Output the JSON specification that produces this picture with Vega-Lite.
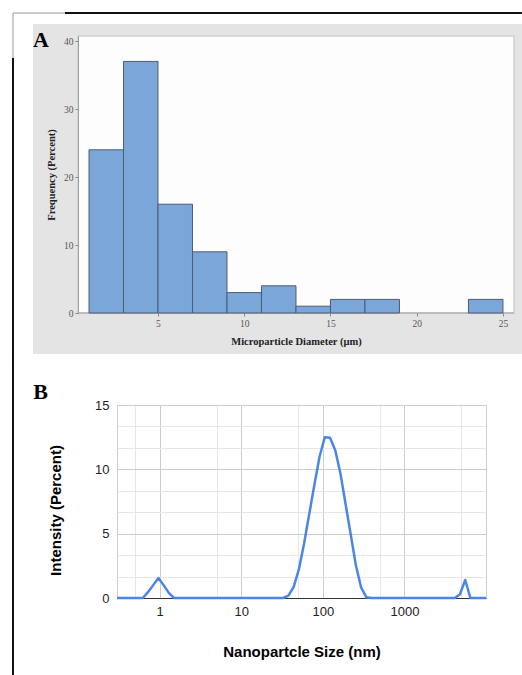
{
  "$schema": "https://vega.github.io/schema/vega-lite/v6.json",
  "background": "white",
  "padding": {"left": 11, "top": 12, "right": 0, "bottom": 0},
  "autosize": {"type": "pad"},
  "columns": 1,
  "align": "none",
  "bounds": "full",
  "spacing": -4,
  "config": {"view": {"stroke": null}},
  "concat": [
    {
      "width": 397,
      "height": 277,
      "layer": [
        {
          "data": {"values": [{}]},
          "mark": {"type": "rect", "fill": "#e5e4e5"},
          "encoding": {
            "x": {"datum": -2.247, "type": "quantitative", "scale": {"domain": [2.623, 25.64], "nice": false, "zero": false}},
            "x2": {"datum": 26.1},
            "y": {"datum": 42.5, "type": "quantitative", "scale": {"domain": [0, 40.74], "nice": false, "zero": false}},
            "y2": {"datum": -6.03}
          }
        },
        {
          "data": {"values": [{}]},
          "mark": {"type": "rect", "fill": "#fdfdfd", "stroke": "#cfcfcf", "strokeWidth": 1.5},
          "encoding": {
            "x": {"datum": 0.362, "type": "quantitative"},
            "x2": {"datum": 25.64},
            "y": {"datum": 40.74, "type": "quantitative"},
            "y2": {"datum": 0}
          }
        },
        {
          "data": {"values": [{}]},
          "mark": {"type": "rule", "color": "#a0a0a0", "strokeWidth": 1},
          "encoding": {"x": {"datum": 0.362, "type": "quantitative"}, "x2": {"datum": 25.64}, "y": {"datum": 0, "type": "quantitative"}}
        },
        {
          "data": {"values": [
            {"lo": 1, "hi": 3, "pct": 24},
            {"lo": 3, "hi": 5, "pct": 37},
            {"lo": 5, "hi": 7, "pct": 16},
            {"lo": 7, "hi": 9, "pct": 9},
            {"lo": 9, "hi": 11, "pct": 3},
            {"lo": 11, "hi": 13, "pct": 4},
            {"lo": 13, "hi": 15, "pct": 1},
            {"lo": 15, "hi": 17, "pct": 2},
            {"lo": 17, "hi": 19, "pct": 2},
            {"lo": 23, "hi": 25, "pct": 2}
          ]},
          "mark": {"type": "rect", "fill": "#7ba6da", "stroke": "#4d5d73", "strokeWidth": 1},
          "encoding": {
            "x": {"field": "lo", "type": "quantitative",
              "axis": {"title": "Microparticle Diameter (µm)", "values": [5, 10, 15, 20, 25], "grid": false,
                "domain": false, "tickColor": "#888", "tickSize": 3, "labelFont": "Liberation Serif",
                "labelFontSize": 9.5, "labelColor": "#555", "labelPadding": 2, "labelFlush": false,
                "titleFont": "Liberation Serif", "titleFontSize": 10.5, "titleFontWeight": "bold", "titleColor": "#222",
                "titlePadding": 9, "titleX": 179, "zindex": 1}},
            "x2": {"field": "hi"},
            "y": {"field": "pct", "type": "quantitative",
              "axis": {"title": "Frequency (Percent)", "values": [0, 10, 20, 30, 40], "grid": false, "offset": 39,
                "domainColor": "#a0a0a0", "tickColor": "#888", "tickSize": 3, "labelFont": "Liberation Serif",
                "labelFontSize": 9.5, "labelColor": "#555", "labelPadding": 2, "labelFlush": false,
                "titleFont": "Liberation Serif", "titleFontSize": 10.5, "titleFontWeight": "bold", "titleColor": "#222",
                "titlePadding": 7, "zindex": 1}},
            "y2": {"datum": 0}
          }
        },
        {
          "data": {"values": [{}]},
          "mark": {"type": "rule", "color": "#999999", "strokeWidth": 1},
          "encoding": {"x": {"datum": -3.406, "type": "quantitative"}, "x2": {"datum": -0.392}, "y": {"datum": 44.12, "type": "quantitative"}}
        },
        {
          "data": {"values": [{}]},
          "mark": {"type": "rule", "color": "#999999", "strokeWidth": 1},
          "encoding": {"x": {"datum": -3.406, "type": "quantitative"}, "y": {"datum": 44.12, "type": "quantitative"}, "y2": {"datum": 37.35}}
        },
        {
          "data": {"values": [{}]},
          "mark": {"type": "rule", "color": "#111111", "strokeWidth": 2},
          "encoding": {"x": {"datum": -0.392, "type": "quantitative"}, "x2": {"datum": 26.1}, "y": {"datum": 44.12, "type": "quantitative"}}
        },
        {
          "data": {"values": [{}]},
          "mark": {"type": "rule", "color": "#111111", "strokeWidth": 2, "strokeCap": "square"},
          "encoding": {"x": {"datum": -3.406, "type": "quantitative"}, "y": {"datum": 37.35, "type": "quantitative"}, "y2": {"datum": -6.912}}
        },
        {
          "data": {"values": [{}]},
          "mark": {"type": "text", "text": "A", "font": "Liberation Serif", "fontSize": 22, "fontWeight": "bold", "align": "center", "baseline": "alphabetic", "color": "#000"},
          "encoding": {"x": {"datum": -1.783, "type": "quantitative"}, "y": {"datum": 39.12, "type": "quantitative"}}
        }
      ]
    },
    {
      "width": 369,
      "height": 193,
      "view": {"stroke": "#d0d0d0"},
      "resolve": {"axis": {"x": "independent", "y": "independent"}},
      "layer": [
        {
          "data": {"values": [
            {"size": 0.3, "pct": 0}, {"size": 0.4, "pct": 0}, {"size": 0.4632, "pct": 0}, {"size": 0.5365, "pct": 0},
            {"size": 0.6213, "pct": 0}, {"size": 0.7195, "pct": 0.45}, {"size": 0.8332, "pct": 1.0}, {"size": 0.9649, "pct": 1.55},
            {"size": 1.117, "pct": 1.0}, {"size": 1.294, "pct": 0.4}, {"size": 1.499, "pct": 0}, {"size": 1.736, "pct": 0},
            {"size": 2.01, "pct": 0}, {"size": 2.328, "pct": 0}, {"size": 2.696, "pct": 0}, {"size": 3.122, "pct": 0},
            {"size": 3.615, "pct": 0}, {"size": 4.187, "pct": 0}, {"size": 4.849, "pct": 0}, {"size": 5.615, "pct": 0},
            {"size": 6.503, "pct": 0}, {"size": 7.531, "pct": 0}, {"size": 8.721, "pct": 0}, {"size": 10.1, "pct": 0},
            {"size": 11.7, "pct": 0}, {"size": 13.54, "pct": 0}, {"size": 15.69, "pct": 0}, {"size": 18.17, "pct": 0},
            {"size": 21.04, "pct": 0}, {"size": 24.36, "pct": 0}, {"size": 28.21, "pct": 0}, {"size": 32.67, "pct": 0},
            {"size": 37.84, "pct": 0.18}, {"size": 43.82, "pct": 0.85}, {"size": 50.75, "pct": 2.2}, {"size": 58.77, "pct": 4.2},
            {"size": 68.06, "pct": 6.5}, {"size": 78.82, "pct": 8.8}, {"size": 91.28, "pct": 11.0}, {"size": 105.7, "pct": 12.5},
            {"size": 122.4, "pct": 12.45}, {"size": 141.8, "pct": 11.5}, {"size": 164.2, "pct": 9.7}, {"size": 190.1, "pct": 7.3},
            {"size": 220.2, "pct": 4.9}, {"size": 255.0, "pct": 2.5}, {"size": 295.3, "pct": 0.8}, {"size": 342.0, "pct": 0.05},
            {"size": 396.1, "pct": 0}, {"size": 458.7, "pct": 0}, {"size": 531.2, "pct": 0}, {"size": 615.1, "pct": 0},
            {"size": 712.4, "pct": 0}, {"size": 825.0, "pct": 0}, {"size": 955.4, "pct": 0}, {"size": 1106, "pct": 0},
            {"size": 1281, "pct": 0}, {"size": 1484, "pct": 0}, {"size": 1718, "pct": 0}, {"size": 1990, "pct": 0},
            {"size": 2305, "pct": 0}, {"size": 2669, "pct": 0}, {"size": 3091, "pct": 0}, {"size": 3580, "pct": 0},
            {"size": 4145, "pct": 0}, {"size": 4801, "pct": 0.3}, {"size": 5560, "pct": 1.4}, {"size": 6439, "pct": 0},
            {"size": 7456, "pct": 0}, {"size": 8635, "pct": 0}, {"size": 10000, "pct": 0}
          ]},
          "mark": {"type": "line", "color": "#4a86e8", "strokeWidth": 2.5, "strokeJoin": "round"},
          "encoding": {
            "x": {"field": "size", "type": "quantitative",
              "scale": {"type": "log", "domain": [0.3, 10000], "nice": false},
              "axis": {"title": "Nanopartcle Size (nm)", "orient": "bottom", "values": [1, 10, 100, 1000], "format": "d",
                "grid": true, "gridColor": "#cccccc",
                "ticks": false, "tickSize": 0, "domainColor": "#333333", "labelFont": "Liberation Sans", "labelFontSize": 13,
                "labelColor": "#222", "labelPadding": 7, "labelOverlap": false, "labelFlush": false,
                "titleFont": "Liberation Sans", "titleFontSize": 15, "titleFontWeight": "bold", "titleColor": "#000", "titlePadding": 26}},
            "y": {"field": "pct", "type": "quantitative",
              "scale": {"domain": [0, 15], "nice": false, "zero": false},
              "axis": {"title": "Intensity (Percent)", "orient": "left", "values": [0, 5, 10, 15], "format": "d",
                "grid": true, "gridColor": "#cccccc",
                "ticks": false, "tickSize": 0, "domain": false, "labelFont": "Liberation Sans", "labelFontSize": 13,
                "labelColor": "#222", "labelPadding": 8, "labelOverlap": false, "labelFlush": false,
                "titleFont": "Liberation Sans", "titleFontSize": 15, "titleFontWeight": "bold", "titleColor": "#000",
                "titlePadding": 31, "titleY": 105}}
          }
        },
        {
          "data": {"values": [{}]},
          "mark": {"type": "rule", "color": "#111111", "strokeWidth": 2, "strokeCap": "square"},
          "encoding": {
            "x": {"datum": 0.01594, "type": "quantitative",
              "axis": {"orient": "bottom", "title": null, "values": [0.5, 5, 50, 500, 5000], "labels": false, "ticks": false,
                "domain": false, "grid": true, "gridColor": "#e6e6e6", "zindex": 0}},
            "y": {"datum": 18.497, "type": "quantitative",
              "axis": {"orient": "left", "title": null, "values": [1.6667, 3.3333, 6.6667, 8.3333, 11.6667, 13.3333], "labels": false,
                "ticks": false, "domain": false, "grid": true, "gridColor": "#e6e6e6", "zindex": 0}},
            "y2": {"datum": -6}
          }
        },
        {
          "data": {"values": [{}]},
          "mark": {"type": "text", "text": "B", "font": "Liberation Serif", "fontSize": 22, "fontWeight": "bold", "align": "center", "baseline": "alphabetic", "color": "#000"},
          "encoding": {"x": {"datum": 0.03463, "type": "quantitative", "axis": null}, "y": {"datum": 15.466, "type": "quantitative", "axis": null}}
        }
      ]
    }
  ]
}
